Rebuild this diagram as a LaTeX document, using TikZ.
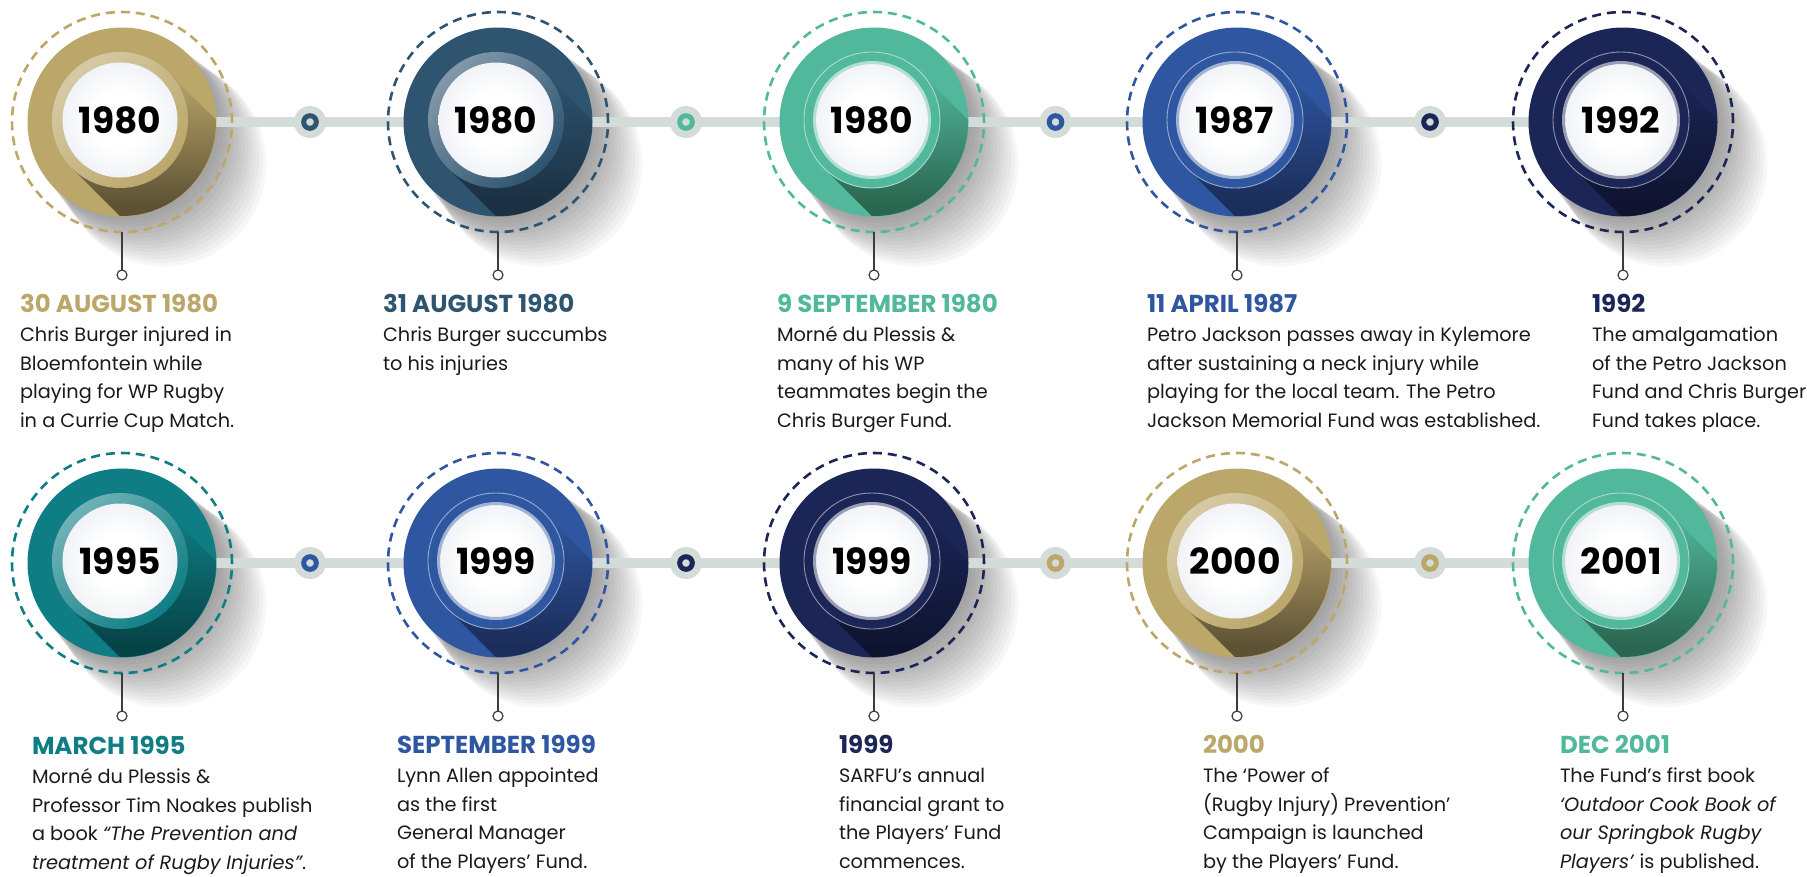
\documentclass[tikz,border=0pt]{standalone}
\usepackage{fontspec}
\setmainfont{Poppins}
\usetikzlibrary{calc}
\definecolor{cgold}{HTML}{BBA76A}\definecolor{cgoldd}{HTML}{5E5235}
\definecolor{cdteal}{HTML}{2E5470}\definecolor{cdteald}{HTML}{1B3042}
\definecolor{cgreen}{HTML}{52B89C}\definecolor{cgreend}{HTML}{2A6650}
\definecolor{cblue}{HTML}{2F56A0}\definecolor{cblued}{HTML}{1B2D5A}
\definecolor{cnavy}{HTML}{1B2657}\definecolor{cnavyd}{HTML}{0E1430}
\definecolor{cteal}{HTML}{0F7E84}\definecolor{cteald}{HTML}{064346}
\definecolor{cline}{HTML}{D3DCD8}
\definecolor{wedge}{HTML}{D5DBE6}
\definecolor{ctext}{HTML}{1A1A1A}
\definecolor{cstem}{HTML}{3C3C3C}
\pgfdeclareradialshading{wdisc}{\pgfpoint{0bp}{0bp}}{color(0bp)=(white); color(12bp)=(white); color(50bp)=(wedge)}
\tikzset{
  disc/.style={circle, inner sep=0pt, outer sep=0pt, minimum size=189pt},
  dashring/.style={circle, inner sep=0pt, outer sep=0pt, minimum size=220pt, line width=2.6pt, dash pattern=on 9pt off 6pt},
  wbtn/.style={circle, inner sep=0pt, outer sep=0pt, minimum size=115pt, shading=wdisc, text=black, font=\fontsize{36}{36}\selectfont\bfseries},
  stemend/.style={circle, draw=cstem, fill=white, line width=1.2pt, inner sep=0pt, outer sep=0pt, minimum size=10pt},
  stem/.style={draw=cstem, line width=1.6pt},
  tline/.style={draw=cline, line width=10pt},
  conn/.style={circle, fill=cline, inner sep=0pt, outer sep=0pt, minimum size=32pt},
  connring/.style={circle, draw=#1, line width=5pt, inner sep=0pt, outer sep=0pt, minimum size=12.6pt},
  band/.style={rectangle, inner sep=0pt, outer sep=0pt, minimum width=240pt, minimum height=136pt, rotate=-45, anchor=west},
  txt/.style={inner sep=0pt, outer sep=0pt, anchor=base west, text=ctext},
}
\newcommand\tlshadow[1]{%
  \foreach \k in {1,...,14}{\fill[black, opacity=0.032] ($(#1)+(\k*3,\k*3)$) circle[radius=94pt+\k*0.6pt];}}
% #1 coord, #2 colour, #3 dark colour, #4 year, #5 thick (1) / thin (0) ring
\newcommand\tlevent[5]{%
  \node[disc, fill=#2] (m#1) at (#1) {};
  \begin{scope}
    \clip (#1) circle[radius=94pt];
    \node[band, top color=#2, bottom color=#3, middle color=#3] (b#1) at ($(#1)+(-2,-2)$) {};
  \end{scope}
  \ifnum#5=1
    \shade[top color=#2!60!white, bottom color=#2, shading angle=45] ($(#1)+(-2,-2)$) circle[radius=68pt];
    \node[wbtn] (y#1) at ($(#1)+(-2,-2)$) {#4};
  \else
    \fill[#2] ($(#1)+(-2,-2)$) circle[radius=68pt];
    \draw[#2!50!white, line width=0.9pt] ($(#1)+(-2,-2)$) circle[radius=68pt];
    \node[wbtn, draw=#2!45!white, line width=3pt] (y#1) at ($(#1)+(-2,-2)$) {#4};
  \fi
  \node[dashring, draw=#2] (d#1) at (#1) {};
  \node[stemend] (s#1) at ($(#1)+(0,153)$) {};
  \draw[stem] (d#1.south) -- (s#1.north);
}
\newcommand\tlhead[1]{\fontsize{24.5}{28.5}\selectfont\bfseries\color{#1}}
\newcommand\tlblock[5]{%
  \node[txt] (#1) at (#2) {\parbox[t]{460pt}{\leavevmode\raggedright\fontsize{19.3}{28.5}\selectfont{\tlhead{#3}#4}\\[1pt]#5}};}
\begin{document}
\begin{tikzpicture}[x=1pt, y=-1pt]
\useasboundingbox (0,0) rectangle (1807,876);
% centres
\coordinate (c1) at (122,122);
\coordinate (c2) at (498,122);
\coordinate (c3) at (874,122);
\coordinate (c4) at (1237,122);
\coordinate (c5) at (1623,122);
\coordinate (c6) at (122,563);
\coordinate (c7) at (498,563);
\coordinate (c8) at (874,563);
\coordinate (c9) at (1237,563);
\coordinate (c10) at (1623,563);
% shadows
\foreach \c in {c1,c2,c3,c4,c5,c6,c7,c8,c9,c10}{\tlshadow{\c}}
% timelines
\draw[tline] (c1) -- (c5);
\draw[tline] (c6) -- (c10);
% connectors
\node[conn] (k1) at ($(c1)!0.5!(c2)$) {}; \node[connring=cdteal] (r1) at (k1) {};
\node[conn] (k2) at ($(c2)!0.5!(c3)$) {}; \node[connring=cgreen] (r2) at (k2) {};
\node[conn] (k3) at ($(c3)!0.5!(c4)$) {}; \node[connring=cblue] (r3) at (k3) {};
\node[conn] (k4) at ($(c4)!0.5!(c5)$) {}; \node[connring=cnavy] (r4) at (k4) {};
\node[conn] (k5) at ($(c6)!0.5!(c7)$) {}; \node[connring=cblue] (r5) at (k5) {};
\node[conn] (k6) at ($(c7)!0.5!(c8)$) {}; \node[connring=cnavy] (r6) at (k6) {};
\node[conn] (k7) at ($(c8)!0.5!(c9)$) {}; \node[connring=cgold] (r7) at (k7) {};
\node[conn] (k8) at ($(c9)!0.5!(c10)$) {}; \node[connring=cgold] (r8) at (k8) {};
% events
\tlevent{c1}{cgold}{cgoldd}{1980}{1}
\tlevent{c2}{cdteal}{cdteald}{1980}{1}
\tlevent{c3}{cgreen}{cgreend}{1980}{0}
\tlevent{c4}{cblue}{cblued}{1987}{0}
\tlevent{c5}{cnavy}{cnavyd}{1992}{0}
\tlevent{c6}{cteal}{cteald}{1995}{1}
\tlevent{c7}{cblue}{cblued}{1999}{0}
\tlevent{c8}{cnavy}{cnavyd}{1999}{0}
\tlevent{c9}{cgold}{cgoldd}{2000}{1}
\tlevent{c10}{cgreen}{cgreend}{2001}{0}
% texts
\tlblock{t1}{20,312}{cgold}{30 AUGUST 1980}{Chris Burger injured in\\ Bloemfontein while\\ playing for WP Rugby\\ in a Currie Cup Match.}
\tlblock{t2}{383,312}{cdteal}{31 AUGUST 1980}{Chris Burger succumbs\\ to his injuries}
\tlblock{t3}{777,312}{cgreen}{9 SEPTEMBER 1980}{Morné du Plessis \&\\ many of his WP\\ teammates begin the\\ Chris Burger Fund.}
\tlblock{t4}{1147,312}{cblue}{11 APRIL 1987}{Petro Jackson passes away in Kylemore\\ after sustaining a neck injury while\\ playing for the local team. The Petro\\ Jackson Memorial Fund was established.}
\tlblock{t5}{1592,312}{cnavy}{1992}{The amalgamation\\ of the Petro Jackson\\ Fund and Chris Burger\\ Fund takes place.}
\tlblock{t6}{32,754}{cteal}{MARCH 1995}{Morné du Plessis \&\\ Professor Tim Noakes publish\\ a book \textit{“The Prevention and}\\ \textit{treatment of Rugby Injuries”}.}
\tlblock{t7}{397,753}{cblue}{SEPTEMBER 1999}{Lynn Allen appointed\\ as the first\\ General Manager\\ of the Players’ Fund.}
\tlblock{t8}{839,753}{cnavy}{1999}{SARFU’s annual\\ financial grant to\\ the Players’ Fund\\ commences.}
\tlblock{t9}{1203,753}{cgold}{2000}{The ‘Power of\\ (Rugby Injury) Prevention’\\ Campaign is launched\\ by the Players’ Fund.}
\tlblock{t10}{1560,753}{cgreen}{DEC 2001}{The Fund’s first book\\ \textit{‘Outdoor Cook Book of}\\ \textit{our Springbok Rugby}\\ \textit{Players’} is published.}
\end{tikzpicture}
\end{document}
